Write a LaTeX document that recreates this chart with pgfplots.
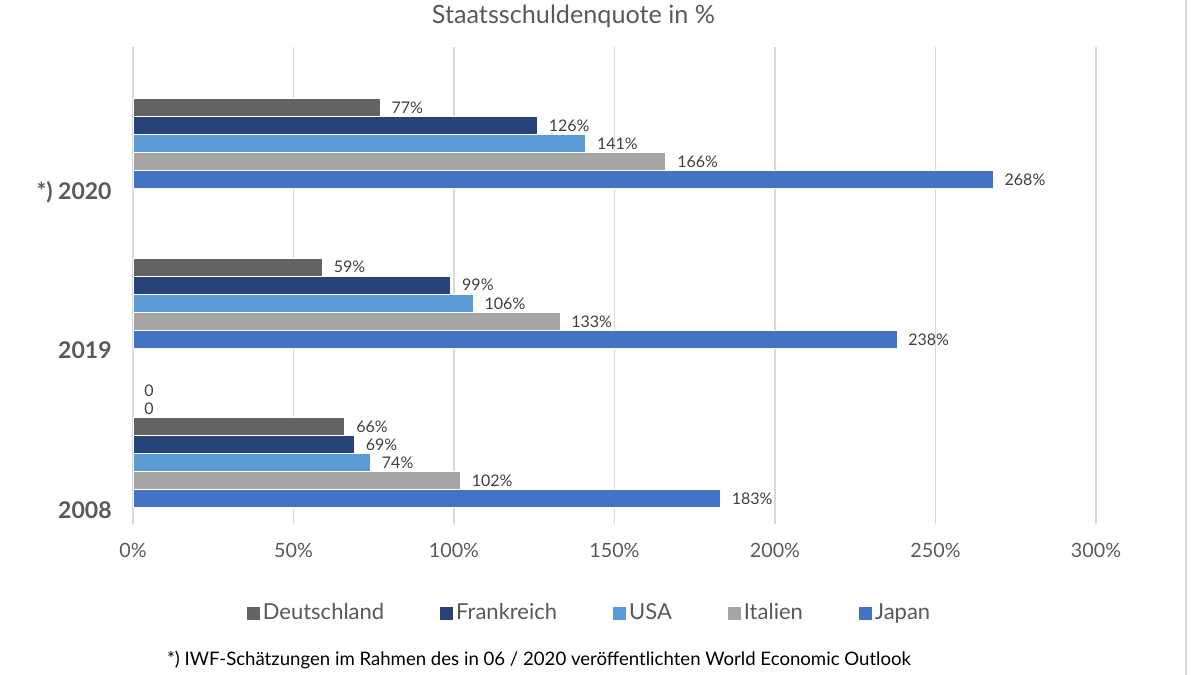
\documentclass[border=0pt]{standalone}
\usepackage{pgfplots}
\pgfplotsset{compat=1.18}
\usepackage{fontspec}
\setmainfont{Lato}
\definecolor{cDE}{HTML}{636363}
\definecolor{cFR}{HTML}{264478}
\definecolor{cUS}{HTML}{5B9BD5}
\definecolor{cIT}{HTML}{A5A5A5}
\definecolor{cJP}{HTML}{4472C4}
\definecolor{txt}{HTML}{595959}
\definecolor{lbl}{HTML}{404040}
\definecolor{gridc}{HTML}{D9D9D9}
\begin{document}
\begin{tikzpicture}
\path[use as bounding box] (0,0) rectangle (600pt,-337.5pt);
\draw[gridc, line width=0.75pt] (593pt,0pt) -- (593pt,-337.5pt);
\node[text=txt, font=\fontsize{12.6}{14}\selectfont, inner sep=0pt] at (286.75pt,-8pt) {Staatsschuldenquote in \%};
\node[anchor=west, inner sep=0pt, font=\fontsize{9.3}{11}\selectfont, text=black] at (83.3pt,-330pt) {*) IWF-Schätzungen im Rahmen des in 06 / 2020 veröffentlichten World Economic Outlook};
\begin{axis}[
  at={(66.5pt,-262pt)}, anchor=south west,
  scale only axis, width=481.5pt, height=238.5pt,
  xbar, bar width=0.1132,
  xmin=0, xmax=300, ymin=-0.0878, ymax=2.903,
  xtick={0,50,...,300},
  xticklabel={\pgfmathprintnumber{\tick}\%},
  /pgf/number format/assume math mode=true,
  xmajorgrids, major grid style={gridc, line width=0.75pt},
  ytick={0,1,2}, yticklabels={2008,2019,*) 2020},
  yticklabel style={font=\fontsize{11.5}{13}\selectfont\bfseries, text=txt, anchor=east, inner sep=0pt, xshift=-10.5pt, text height=8.3pt, text depth=0pt},
  xticklabel style={font=\fontsize{9.85}{11}\selectfont, text=txt, anchor=center, inner sep=0pt, yshift=-13.35pt},
  axis line style={draw=none},
  major tick length=0pt,
  point meta=x,
  nodes near coords={\pgfmathprintnumber[fixed,precision=0]{\pgfplotspointmeta}\%},
  nodes near coords style={anchor=west, inner sep=0pt, xshift=5.5pt, font=\fontsize{8}{9}\selectfont, text=lbl, text height=5.8pt, text depth=0pt},
  every axis plot/.append style={draw=white, line width=0.4pt},
  legend columns=5,
  legend style={draw=none, fill=none, at={(0.4746,-0.1866)}, anchor=center, font=\fontsize{11}{13}\selectfont, text=txt,
    /tikz/every even column/.append style={column sep=26.5pt}, nodes={inner sep=1.5pt}},
  legend image code/.code={\fill[#1, draw=none] (0pt,-3.25pt) rectangle (6.5pt,3.25pt);},
]
\addplot[forget plot, draw=none, fill=none, bar shift=0.749,
  nodes near coords={\pgfmathprintnumber[fixed,precision=0]{\pgfplotspointmeta}}] coordinates {(0,0)};
\addplot[forget plot, draw=none, fill=none, bar shift=0.636,
  nodes near coords={\pgfmathprintnumber[fixed,precision=0]{\pgfplotspointmeta}}] coordinates {(0,0)};
\addplot[fill=cDE, bar shift=0.523] coordinates {(66,0) (59,1) (77,2)};
\addplot[fill=cFR, bar shift=0.410] coordinates {(69,0) (99,1) (126,2)};
\addplot[fill=cUS, bar shift=0.296] coordinates {(74,0) (106,1) (141,2)};
\addplot[fill=cIT, bar shift=0.183] coordinates {(102,0) (133,1) (166,2)};
\addplot[fill=cJP, bar shift=0.070] coordinates {(183,0) (238,1) (268,2)};
\legend{Deutschland,Frankreich,USA,Italien,Japan}
\end{axis}
\end{tikzpicture}
\end{document}
